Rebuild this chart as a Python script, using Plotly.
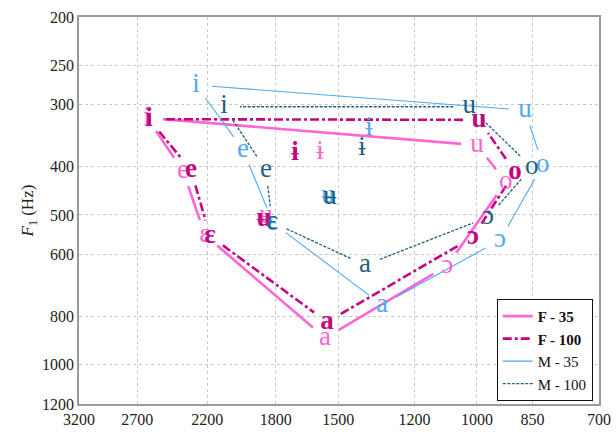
import numpy as np
import plotly.graph_objects as go

# Vowel symbols; the first seven form the closed vowel polygon, the last two are central vowels
vowels = ["i", "e", "ɛ", "a", "ɔ", "o", "u", "ɨ", "ʉ"]

# Formant means (Hz) per speaker group / condition
F35_F2 = [2623, 2361, 2214, 1559, 1091, 919, 1000, 1582, 1853]
F35_F1 = [319, 408, 549, 884, 633, 429, 362, 374, 503]

F100_F2 = [2608, 2307, 2182, 1550, 1012, 895, 994, 1702, 1864]
F100_F1 = [321, 406, 551, 821, 554, 410, 322, 375, 510]

M35_F2 = [2273, 1981, 1815, 1320, 935, 825, 869, 1371, 1546]
M35_F1 = [274, 370, 519, 759, 562, 397, 308, 334, 458]

M100_F2 = [2095, 1853, 1820, 1387, 968, 852, 1023, 1399, 1537]
M100_F1 = [303, 406, 517, 631, 505, 401, 303, 367, 460]

series_names = ["F - 35", "F - 100", "M - 35", "M - 100"]

x_ticks = [3200, 2700, 2200, 1800, 1500, 1200, 1000, 850, 700]
y_ticks = [200, 250, 300, 400, 500, 600, 800, 1000, 1200]

# Layout geometry
FIG_W, FIG_H = 616, 432
M_L, M_R, M_T, M_B = 79, 17, 17, 28
PW, PH = FIG_W - M_L - M_R, FIG_H - M_T - M_B
X0, X1 = np.log10(3200), np.log10(700)
Y0, Y1 = np.log10(200), np.log10(1200)


def to_px(f2, f1):
    u = (np.log10(f2) - X0) / (X1 - X0) * PW
    v = (np.log10(f1) - Y0) / (Y1 - Y0) * PH
    return u, v


def from_px(u, v):
    return 10 ** (X0 + u / PW * (X1 - X0)), 10 ** (Y0 + v / PH * (Y1 - Y0))


def polygon_segments(f2, f1, n=7, gap=16.0):
    """Closed polygon through the first n vowels, each edge shortened near the labels."""
    xs, ys = [], []
    for k in range(n):
        a, b = k, (k + 1) % n
        ua, va = to_px(f2[a], f1[a])
        ub, vb = to_px(f2[b], f1[b])
        d = np.hypot(ub - ua, vb - va)
        if d <= 2 * gap:
            continue
        t0, t1 = gap / d, 1 - gap / d
        p = from_px(ua + (ub - ua) * t0, va + (vb - va) * t0)
        q = from_px(ua + (ub - ua) * t1, va + (vb - va) * t1)
        xs += [p[0], q[0], None]
        ys += [p[1], q[1], None]
    return xs, ys


styles = [
    dict(f2=F35_F2, f1=F35_F1, color="#ff66d4", width=2.6, dash="solid", weight="normal"),
    dict(f2=F100_F2, f1=F100_F1, color="#c2077f", width=2.6, dash="9px,3px,3px,3px", weight="bold"),
    dict(f2=M35_F2, f1=M35_F1, color="#4ea9f2", width=1.1, dash="solid", weight="normal"),
    dict(f2=M100_F2, f1=M100_F1, color="#1f5f80", width=1.3, dash="3px,1.5px", weight="normal"),
]

fig = go.Figure()

for name, st in zip(series_names, styles):
    xs, ys = polygon_segments(st["f2"], st["f1"])
    fig.add_trace(go.Scatter(
        x=xs, y=ys, mode="lines", name=name, legendgroup=name,
        line=dict(color=st["color"], width=st["width"], dash=st["dash"]),
        hoverinfo="skip",
    ))

for name, st in zip(series_names, styles):
    fig.add_trace(go.Scatter(
        x=st["f2"], y=st["f1"], mode="text", text=vowels, textposition="middle center",
        textfont=dict(family="Liberation Serif", size=27, color=st["color"], weight=st["weight"]),
        legendgroup=name, showlegend=False, hoverinfo="skip",
    ))

axis_common = dict(
    type="log", automargin=False,
    showline=True, mirror=True, linecolor="#9a9a9a", linewidth=1.8,
    showgrid=True, gridcolor="#c8c8c8", griddash="dot", gridwidth=1,
    zeroline=False, ticks="",
    tickfont=dict(family="Liberation Serif", size=16, color="#222222"),
)

fig.update_layout(
    width=FIG_W, height=FIG_H,
    margin=dict(l=M_L, r=M_R, t=M_T, b=M_B),
    paper_bgcolor="white", plot_bgcolor="white",
    xaxis=dict(axis_common, range=[X0, X1], tickmode="array",
               tickvals=x_ticks, ticktext=[str(v) for v in x_ticks]),
    yaxis=dict(axis_common, range=[Y1, Y0], tickmode="array",
               tickvals=y_ticks, ticktext=[str(v) for v in y_ticks],
               title=dict(text="<i>F</i><sub>1</sub> (Hz)", standoff=4,
                          font=dict(family="Liberation Serif", size=17, color="#222222"))),
    legend=dict(
        x=0.988, y=0.008, xanchor="right", yanchor="bottom",
        bgcolor="white", bordercolor="#111111", borderwidth=1,
        font=dict(family="Liberation Serif", size=15, color="#111111"),
        tracegroupgap=0, itemwidth=30,
    ),
    showlegend=True,
)

# Bold legend entries for the female groups
fig.data[0].name = "<b>F - 35</b>"
fig.data[1].name = "<b>F - 100</b>"

fig.write_html("out.html")
